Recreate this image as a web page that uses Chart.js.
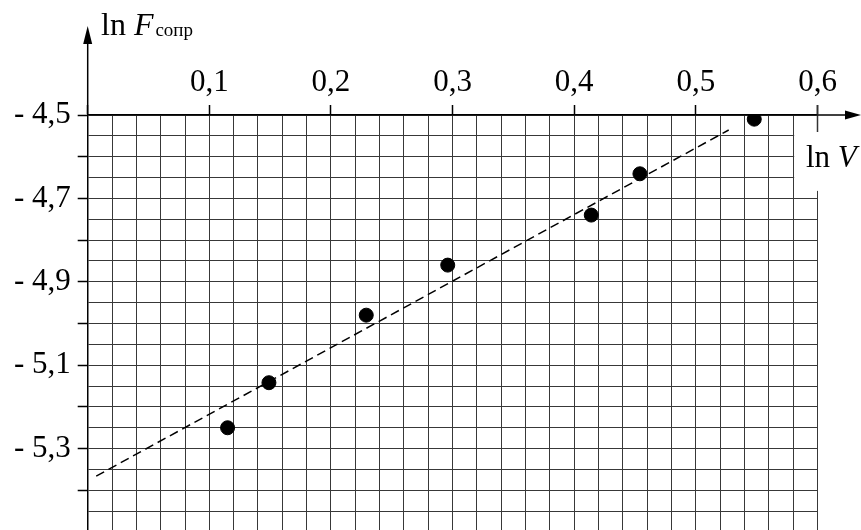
<!DOCTYPE html>
<html>
<head>
<meta charset="utf-8">
<script src="https://cdn.jsdelivr.net/npm/chart.js@4.4.1/dist/chart.umd.min.js"></script>
<style>
  html, body { margin: 0; padding: 0; background: #fff; overflow: hidden; }
  #wrap { width: 861px; height: 530px; overflow: hidden; }
</style>
</head>
<body>
<div id="wrap"><canvas id="c" width="861" height="532"></canvas></div>
<script>
// ---- data ----
const lnV = [0.115, 0.149, 0.229, 0.296, 0.414, 0.454, 0.548];
const lnF = [-5.25, -5.142, -4.98, -4.86, -4.74, -4.641, -4.51];
const trendX = [0.007, 0.527];
const trendY = [-5.366, -4.536];
const xTickValues = [0.1, 0.2, 0.3, 0.4, 0.5, 0.6];
const xTickLabels = ['0,1', '0,2', '0,3', '0,4', '0,5', '0,6'];
const yTickValues = [-4.5, -4.7, -4.9, -5.1, -5.3];
const yTickLabels = ['- 4,5', '- 4,7', '- 4,9', '- 5,1', '- 5,3'];
const xTitle = ['ln ', 'V'];
const yTitle = ['ln ', 'F', 'сопр'];

const FONT = '"Liberation Serif", "Times New Roman", serif';
const GRID = '#383838';

function near(a, b) { return Math.abs(a - b) < 1e-6; }
function labelFor(values, labels, v) {
  for (let i = 0; i < values.length; i++) if (near(values[i], v)) return labels[i];
  return '';
}
function isMajor(v) { return Math.abs(Math.round(v * 10) - v * 10) < 1e-6; }

const decor = {
  id: 'decor',
  beforeDatasetsDraw(chart) {
    const { ctx, scales: { x, y } } = chart;
    const xa = x.getPixelForValue(0.58) + 1;
    const xb = x.getPixelForValue(0.6) + 3;
    const ya = y.getPixelForValue(-4.5) + 1;
    const yb = y.getPixelForValue(-4.682);
    ctx.save();
    ctx.fillStyle = '#fff';
    ctx.fillRect(xa, ya, xb - xa, yb - ya);
    const x6 = x.getPixelForValue(0.6);
    const ax = y.getPixelForValue(-4.5);
    ctx.strokeStyle = '#333';
    ctx.lineWidth = 1.5;
    ctx.beginPath();
    ctx.moveTo(x6, ax - 10);
    ctx.lineTo(x6, ax + 17);
    ctx.stroke();
    ctx.restore();
  },
  afterDraw(chart) {
    const { ctx, scales: { x, y } } = chart;
    const ox = x.getPixelForValue(0);
    const oy = y.getPixelForValue(-4.5);
    ctx.save();
    ctx.strokeStyle = '#000';
    ctx.fillStyle = '#000';
    ctx.lineWidth = 1.5;
    ctx.beginPath();
    ctx.moveTo(ox, oy);
    ctx.lineTo(ox, 38);
    ctx.stroke();
    ctx.beginPath();
    ctx.moveTo(ox, 26);
    ctx.lineTo(ox - 4.5, 44);
    ctx.lineTo(ox + 4.5, 44);
    ctx.closePath();
    ctx.fill();
    ctx.beginPath();
    ctx.moveTo(x.right, oy);
    ctx.lineTo(850, oy);
    ctx.stroke();
    ctx.beginPath();
    ctx.moveTo(861, oy);
    ctx.lineTo(845, oy - 4.5);
    ctx.lineTo(845, oy + 4.5);
    ctx.closePath();
    ctx.fill();
    ctx.textBaseline = 'alphabetic';
    ctx.textAlign = 'left';
    let tx = 101, ty = 35;
    ctx.font = '32px ' + FONT;
    ctx.fillText(yTitle[0], tx, ty);
    tx += ctx.measureText(yTitle[0]).width;
    ctx.font = 'italic 32px ' + FONT;
    ctx.fillText(yTitle[1], tx, ty);
    tx += ctx.measureText(yTitle[1]).width + 2;
    ctx.font = '19px ' + FONT;
    ctx.fillText(yTitle[2], tx, ty + 1);
    tx = 806; ty = 167;
    ctx.font = '31px ' + FONT;
    ctx.fillText(xTitle[0], tx, ty);
    tx += ctx.measureText(xTitle[0]).width;
    ctx.font = 'italic 31px ' + FONT;
    ctx.fillText(xTitle[1], tx, ty);
    ctx.restore();
  }
};

new Chart(document.getElementById('c'), {
  type: 'scatter',
  data: {
    datasets: [
      {
        type: 'line',
        data: trendX.map((v, i) => ({ x: v, y: trendY[i] })),
        borderColor: '#000',
        borderWidth: 1.5,
        borderDash: [9, 5],
        pointRadius: 0,
        fill: false,
        order: 2
      },
      {
        data: lnV.map((v, i) => ({ x: v, y: lnF[i] })),
        backgroundColor: '#000',
        borderColor: '#000',
        pointRadius: 7,
        order: 1
      }
    ]
  },
  options: {
    responsive: false,
    animation: false,
    devicePixelRatio: 1,
    layout: { autoPadding: false, padding: { left: 0, top: 0, right: 43.5, bottom: 0 } },
    plugins: { legend: { display: false }, tooltip: { enabled: false } },
    scales: {
      x: {
        type: 'linear',
        position: 'top',
        min: 0,
        max: 0.6,
        afterFit(s) { s.height = 115; s.paddingLeft = 0; s.paddingRight = 0; },
        border: { color: '#000', width: 1.5 },
        grid: {
          color: GRID,
          lineWidth: 1,
          drawTicks: true,
          tickLength: 10,
          tickColor: (ctx) => (ctx.tick && isMajor(ctx.tick.value) ? '#000' : 'rgba(0,0,0,0)'),
          tickWidth: 1.5
        },
        ticks: {
          stepSize: 0.02,
          autoSkip: false,
          maxRotation: 0,
          padding: 4,
          color: '#000',
          font: { family: FONT, size: 31 },
          callback: (v) => labelFor(xTickValues, xTickLabels, v)
        }
      },
      y: {
        type: 'linear',
        position: 'left',
        min: -5.5,
        max: -4.5,
        afterFit(s) { s.width = 87.7; s.paddingTop = 0; s.paddingBottom = 0; },
        border: { color: '#000', width: 1.5 },
        grid: {
          color: GRID,
          lineWidth: 1,
          drawTicks: true,
          tickLength: 10,
          tickColor: (ctx) => (ctx.tick && isMajor(ctx.tick.value) ? '#000' : 'rgba(0,0,0,0)'),
          tickWidth: 1.5
        },
        ticks: {
          stepSize: 0.05,
          autoSkip: false,
          padding: 7,
          color: '#000',
          font: { family: FONT, size: 31 },
          callback: (v) => labelFor(yTickValues, yTickLabels, v)
        }
      }
    }
  },
  plugins: [decor]
});
</script>
</body>
</html>
